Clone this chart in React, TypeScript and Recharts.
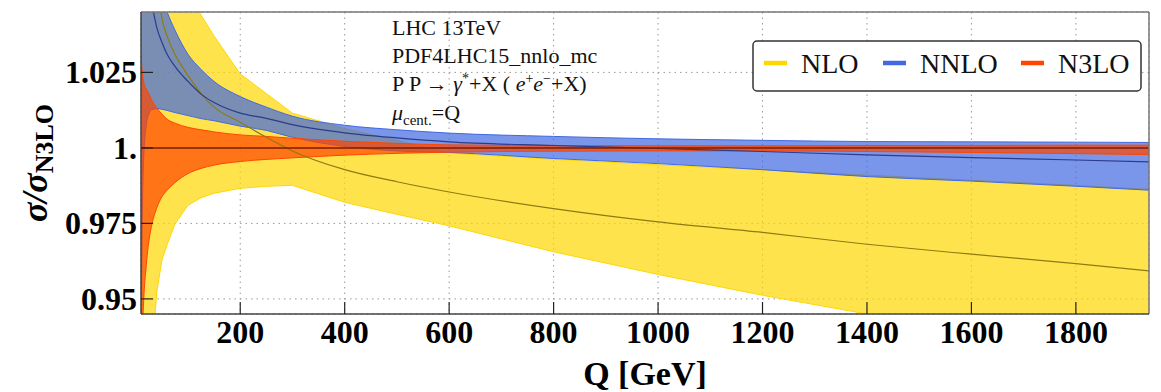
import React from "react";
import {
  ComposedChart,
  Area,
  Line,
  XAxis,
  YAxis,
  CartesianGrid,
  ReferenceLine,
} from "recharts";

// Q grid in GeV
const qValues = [10, 12, 15, 20, 25, 30, 40, 50, 60, 75, 100, 125, 150, 200, 250, 300, 400, 500, 600, 800, 1000, 1200, 1400, 1600, 1800, 1940];

// NLO / N3LO band and central value
const nloLow = [0.85, 0.86, 0.875, 0.895, 0.912, 0.928, 0.952, 0.9628, 0.968, 0.9748, 0.981, 0.9835, 0.985, 0.9866, 0.9873, 0.9876, 0.982, 0.978, 0.9742, 0.9656, 0.9581, 0.9512, 0.945, 0.939, 0.933, 0.929];
const nloMid = [1.25, 1.21, 1.17, 1.12, 1.095, 1.078, 1.056, 1.043, 1.037, 1.031, 1.024, 1.018, 1.0135, 1.0085, 1.0035, 0.999, 0.9928, 0.9888, 0.9854, 0.9799, 0.9755, 0.972, 0.9681, 0.9648, 0.9617, 0.9593];
const nloHigh = [1.3, 1.26, 1.22, 1.17, 1.14, 1.12, 1.1, 1.085, 1.075, 1.065, 1.052, 1.044, 1.037, 1.0245, 1.018, 1.0115, 1.0064, 1.0025, 0.9983, 0.9962, 0.9944, 0.9927, 0.991, 0.9893, 0.9876, 0.9863];

// NNLO / N3LO
const nnloLow = [0.9, 0.97, 0.996, 1.0075, 1.0112, 1.0126, 1.013, 1.0128, 1.0124, 1.0117, 1.0107, 1.0097, 1.009, 1.0072, 1.0058, 1.0035, 1.0005, 0.999, 0.9985, 0.9965, 0.9948, 0.9928, 0.9905, 0.989, 0.9873, 0.986];
const nnloMid = [1.12, 1.1, 1.08, 1.065, 1.055, 1.049, 1.04, 1.035, 1.031, 1.027, 1.022, 1.0178, 1.015, 1.0115, 1.0098, 1.0077, 1.005, 1.0033, 1.002, 1.0008, 0.9998, 0.9988, 0.9977, 0.9968, 0.996, 0.9954];
const nnloHigh = [1.2, 1.17, 1.14, 1.11, 1.09, 1.075, 1.058, 1.05, 1.045, 1.039, 1.031, 1.026, 1.022, 1.017, 1.0135, 1.0105, 1.0075, 1.006, 1.0049, 1.0038, 1.003, 1.0025, 1.0021, 1.002, 1.0019, 1.0018];

// N3LO / N3LO
const n3loLow = [0.92, 0.935, 0.949, 0.961, 0.969, 0.974, 0.98, 0.9838, 0.986, 0.9885, 0.9915, 0.9932, 0.9943, 0.9955, 0.9962, 0.9967, 0.9976, 0.9982, 0.9986, 0.9989, 0.999, 0.999, 0.9988, 0.9985, 0.9981, 0.9978];
const n3loMid = [1, 1, 1, 1, 1, 1, 1, 1, 1, 1, 1, 1, 1, 1, 1, 1, 1, 1, 1, 1, 1, 1, 1, 1, 1, 1];
const n3loHigh = [1.0305, 1.026, 1.022, 1.0195, 1.018, 1.016, 1.0133, 1.0112, 1.0095, 1.0082, 1.0068, 1.006, 1.0053, 1.0043, 1.0038, 1.0032, 1.0022, 1.0015, 1.001, 1.0008, 1.0007, 1.0007, 1.0008, 1.0008, 1.0009, 1.0009];

const xTicks = [200, 400, 600, 800, 1000, 1200, 1400, 1600, 1800];
const yTicks = [0.95, 0.975, 1, 1.025];
const yTickLabels = ["0.95", "0.975", "1.", "1.025"];

const legendLabels = ["NLO", "NNLO", "N3LO"];
const legendColors = ["#FFD700", "#4169E1", "#FF4500"];
const legendSwatchX = [764, 883, 1021];

const data = qValues.map((q, i) => ({
  q,
  nlo: [nloLow[i], nloHigh[i]],
  nloMid: nloMid[i],
  nnlo: [nnloLow[i], nnloHigh[i]],
  nnloMid: nnloMid[i],
  n3lo: [n3loLow[i], n3loHigh[i]],
  n3loMid: n3loMid[i],
}));

const serif = "'Liberation Serif', 'Times New Roman', serif";

const XTick = (props: any) => {
  const { x, y, payload } = props;
  return (
    <g>
      <line x1={x} x2={x} y1={y} y2={y - 12} stroke="#222" strokeWidth={1.2} />
      <text x={x} y={y + 29} textAnchor="middle" fontFamily={serif} fontWeight="bold" fontSize={32} fill="#000">
        {payload.value}
      </text>
    </g>
  );
};

const YTick = (props: any) => {
  const { x, y, payload } = props;
  const idx = yTicks.indexOf(payload.value);
  return (
    <g>
      <line x1={x} x2={x + 12} y1={y} y2={y} stroke="#222" strokeWidth={1.2} />
      <text x={x - 4} y={y + 11} textAnchor="end" fontFamily={serif} fontWeight="bold" fontSize={32} fill="#000">
        {idx >= 0 ? yTickLabels[idx] : payload.value}
      </text>
    </g>
  );
};

export default function App() {
  return (
    <div style={{ position: "absolute", left: 0, top: 0, width: 1161, height: 392, background: "#fff" }}>
      <ComposedChart width={1161} height={392} data={data} margin={{ top: 12, right: 12, left: 0, bottom: 0 }}>
        <CartesianGrid stroke="#999" strokeDasharray="1.5 4" />
        <XAxis
          dataKey="q"
          type="number"
          domain={[10, 1940]}
          ticks={xTicks}
          allowDataOverflow
          height={78}
          tickSize={0}
          tickMargin={0}
          tickLine={false}
          axisLine={{ stroke: "#444", strokeWidth: 1.5 }}
          tick={<XTick />}
          interval={0}
        />
        <YAxis
          type="number"
          domain={[0.945, 1.045]}
          ticks={yTicks}
          allowDataOverflow
          width={141}
          tickSize={0}
          tickMargin={0}
          tickLine={false}
          axisLine={{ stroke: "#444", strokeWidth: 1.5 }}
          tick={<YTick />}
          interval={0}
        />
        <Area dataKey="nlo" type="linear" fill="#FFD700" fillOpacity={0.7} stroke="#FFD700" strokeWidth={1} isAnimationActive={false} />
        <Line dataKey="nloMid" type="monotone" stroke="#8E7B10" strokeWidth={1.2} dot={false} isAnimationActive={false} />
        <Area dataKey="nnlo" type="monotone" fill="#4169E1" fillOpacity={0.7} stroke="#4169E1" strokeWidth={1} isAnimationActive={false} />
        <Line dataKey="nnloMid" type="monotone" stroke="#2B3C8C" strokeWidth={1.2} dot={false} isAnimationActive={false} />
        <Area dataKey="n3lo" type="monotone" fill="#FF4500" fillOpacity={0.7} stroke="#FF4500" strokeWidth={1} isAnimationActive={false} />
        <Line dataKey="n3loMid" type="monotone" stroke="#7A1E00" strokeWidth={1.5} dot={false} isAnimationActive={false} />
        <ReferenceLine y={1.045} stroke="#777" strokeWidth={1.5} />
        <ReferenceLine x={1940} stroke="#777" strokeWidth={1.5} />
      </ComposedChart>

      <svg width={1161} height={392} style={{ position: "absolute", left: 0, top: 0, pointerEvents: "none" }}>
        <g fontFamily={serif} fontSize={22} fill="#111">
          <text x={392} y={35}>LHC 13TeV</text>
          <text x={392} y={63}>PDF4LHC15_nnlo_mc</text>
          <text x={392} y={91}>
            {"P P → "}
            <tspan fontStyle="italic">γ</tspan>
            <tspan dy={-8} fontSize={14}>*</tspan>
            <tspan dy={8}>{"+X ( "}</tspan>
            <tspan fontStyle="italic">e</tspan>
            <tspan dy={-8} fontSize={14}>+</tspan>
            <tspan dy={8} fontStyle="italic">e</tspan>
            <tspan dy={-8} fontSize={14}>−</tspan>
            <tspan dy={8}>+X)</tspan>
          </text>
          <text x={392} y={120}>
            <tspan fontStyle="italic">μ</tspan>
            <tspan dy={5} fontSize={15}>cent.</tspan>
            <tspan dy={-5}>=Q</tspan>
          </text>
        </g>

        <rect x={753} y={41} width={388} height={50} rx={4} fill="#fff" stroke="#333" strokeWidth={1.5} />
        {legendLabels.map((label, i) => (
          <g key={label}>
            <line x1={legendSwatchX[i]} x2={legendSwatchX[i] + 23} y1={63} y2={63} stroke={legendColors[i]} strokeWidth={4.5} />
            <text x={legendSwatchX[i] + 37} y={73} fontFamily={serif} fontSize={28} fill="#111">
              {label}
            </text>
          </g>
        ))}

        <text x={645} y={385} textAnchor="middle" fontFamily={serif} fontWeight="bold" fontSize={34} fill="#000">
          Q [GeV]
        </text>

        <text x={47} y={163} transform="rotate(-90 47 163)" textAnchor="middle" fontFamily={serif} fontWeight="bold" fill="#000">
          <tspan fontSize={36} fontStyle="italic">σ/σ</tspan>
          <tspan fontSize={26} dy={6}>N3LO</tspan>
        </text>
      </svg>
    </div>
  );
}
